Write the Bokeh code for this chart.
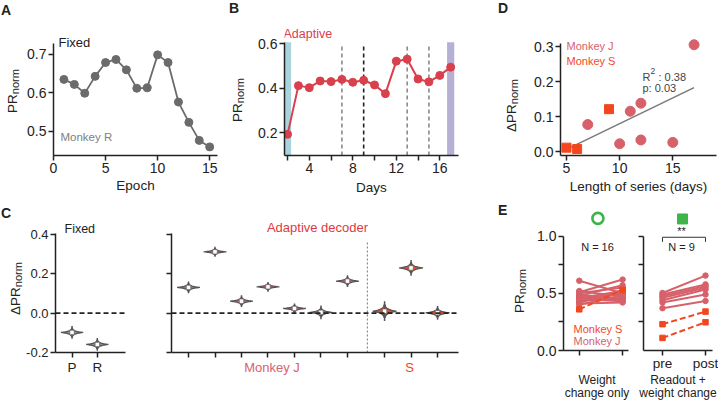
import math
import numpy as np
from bokeh.plotting import figure
from bokeh.layouts import column, row
from bokeh.models import Range1d, FixedTicker, Label, BoxAnnotation, Span, Div
from bokeh.embed import file_html
from bokeh.resources import INLINE

# ---------------- data ----------------
# A: fixed decoder, monkey R
epochs = list(range(1, 16))
fixed_pr = [0.635, 0.622, 0.599, 0.643, 0.679, 0.687, 0.660, 0.612, 0.613,
            0.699, 0.679, 0.576, 0.523, 0.476, 0.459]

# B: adaptive decoder
days = list(range(2, 18))
adaptive_pr = [0.193, 0.412, 0.403, 0.433, 0.430, 0.440, 0.427, 0.436,
               0.415, 0.376, 0.522, 0.531, 0.442, 0.429, 0.458, 0.495]
change_days_gray = [7, 13, 15]
change_days_black = [9]
band_days = [2, 17]

# D: delta PR vs length of series
d_j_len = [7, 10, 11, 12, 12, 15, 17]
d_j_dpr = [0.077, 0.022, 0.115, 0.138, 0.033, 0.026, 0.305]
d_s_len = [5, 6, 9]
d_s_dpr = [0.011, 0.007, 0.121]
d_r2 = "0.38"
d_p = "0.03"

# C: violins (median, spread)
c_fixed_labels = ["P", "R"]
c_fixed_med = [-0.098, -0.159]
c_fixed_spread = [0.0065, 0.0065]
c_j_med = [0.131, 0.312, 0.061, 0.134, 0.024, 0.004, 0.163]
c_j_spread = [0.006, 0.005, 0.006, 0.005, 0.005, 0.007, 0.006]
c_s_med = [0.010, 0.230, 0.002]
c_s_spread = [0.010, 0.008, 0.007]

# E: pre / post
e_wc_j_pre = [0.61, 0.52, 0.51, 0.50, 0.49, 0.48, 0.47, 0.46, 0.46, 0.45, 0.44, 0.43, 0.42, 0.41, 0.40]
e_wc_j_post = [0.50, 0.47, 0.62, 0.55, 0.45, 0.57, 0.44, 0.52, 0.49, 0.43, 0.50, 0.46, 0.53, 0.42, 0.48]
e_wc_s_pre = [0.36]
e_wc_s_post = [0.53]
e_ro_j_pre = [0.503, 0.489, 0.474, 0.460, 0.440, 0.420, 0.370]
e_ro_j_post = [0.655, 0.578, 0.564, 0.549, 0.534, 0.490, 0.433]
e_ro_s_pre = [0.23, 0.11]
e_ro_s_post = [0.34, 0.247]
e_tick_labels = ["pre", "post"]

# ---------------- style ----------------
FONT = "Liberation Sans"
CSS_FONT = "'Liberation Sans', Arial, sans-serif"
INK = "#222222"
GRAY_A = "#6b6b6b"
RED_B = "#d9404d"
J_COL = "#d7616a"
S_COL = "#f2471e"
ADAPT_RED = "#e0393b"
GREEN = "#3db54a"
BLUE_BAND = "#a9d4de"
PURPLE_BAND = "#b5b0d4"
VEDGE = "#555555"

# absolute screen position (left, bottom) of each frame
FRAME = {
    "A": (53, 155), "B": (284, 155), "D": (560, 155),
    "C1": (53, 352), "C2": (171, 352), "E1": (562, 352), "E2": (643, 352),
}


def make_fig(w, h, bl, br, bt, bb, xr, yr):
    p = figure(width=w, height=h, min_border_left=bl, min_border_right=br,
               min_border_top=bt, min_border_bottom=bb,
               x_range=Range1d(*xr), y_range=Range1d(*yr),
               output_backend="svg", toolbar_location=None)
    p.title.visible = False
    p.xgrid.visible = False
    p.ygrid.visible = False
    p.outline_line_color = None
    p.background_fill_color = "white"
    p.border_fill_color = "white"
    for ax in p.axis:
        ax.axis_line_width = 1.5
        ax.axis_line_color = INK
        ax.major_tick_line_width = 1.5
        ax.major_tick_line_color = INK
        ax.minor_tick_line_width = 1.5
        ax.minor_tick_line_color = INK
        ax.major_tick_in = 0
        ax.major_tick_out = 5
        ax.minor_tick_in = 0
        ax.minor_tick_out = 5
        ax.major_label_text_font = FONT
        ax.major_label_text_font_size = "14px"
        ax.major_label_text_color = INK
        ax.major_label_standoff = 2
        ax.axis_label_text_font = FONT
        ax.axis_label_text_font_style = "normal"
        ax.axis_label_text_font_size = "13.5px"
        ax.axis_label_text_color = INK
    return p


def set_ticks(ax, major, labels=None, minor=None):
    ax.ticker = FixedTicker(ticks=major, minor_ticks=minor or [])
    if labels is not None:
        ax.major_label_overrides = {t: l for t, l in zip(major, labels)}


def blank_labels(ax):
    ax.major_label_overrides = {t: "" for t in ax.ticker.ticks}
    ax.major_label_text_font_size = "1px"
    ax.major_label_standoff = 0


def add_text(p, key, X, Y, text, size, color=INK, align="left",
             baseline="middle", style="normal"):
    fl, fb = FRAME[key]
    p.add_layout(Label(x=X - fl, y=fb - Y, x_units="screen", y_units="screen",
                       text=text, text_font=FONT, text_font_size=f"{size}px",
                       text_color=color, text_align=align, text_baseline=baseline,
                       text_font_style=style))


# ---- HTML side columns (panel letters, y labels with subscripts) ----
def span_text(x, y, text, size, color=INK, bold=False, center=False, lh=16):
    tr = "transform:translateX(-50%);" if center else ""
    fw = "bold" if bold else "normal"
    return (f'<span style="position:absolute;left:{x}px;top:{y}px;{tr}'
            f'font-size:{size}px;line-height:{lh}px;white-space:nowrap;'
            f'color:{color};font-weight:{fw};">{text}</span>')


def rot_ylabel(x, y0, prefix):
    return (f'<span style="position:absolute;left:{x}px;top:{y0}px;'
            f'transform-origin:0 0;transform:rotate(-90deg);font-size:13.5px;'
            f'line-height:13px;white-space:nowrap;color:{INK};">{prefix}'
            f'<span style="font-size:11px;position:relative;top:1.5px;">norm</span></span>')


def html_div(width, height, items):
    inner = "".join(items)
    return Div(text=(f'<div style="position:relative;width:{width}px;height:{height}px;'
                     f'overflow:hidden;font-family:{CSS_FONT};">{inner}</div>'),
               width=width, height=height, margin=(0, 0, 0, 0))


# ---------------- A ----------------
pA = make_fig(207, 200, 31, 12, 24, 45, (0, 15.75), (0.4366, 0.7782))
set_ticks(pA.xaxis[0], [0, 5, 10, 15], ["0", "5", "10", "15"])
set_ticks(pA.yaxis[0], [0.5, 0.6, 0.7], ["0.5", "0.6", "0.7"])
pA.yaxis[0].bounds = (0.4366, 0.7287)
pA.xaxis[0].axis_label = "Epoch"
pA.xaxis[0].axis_label_standoff = 2
pA.line(epochs, fixed_pr, line_color=GRAY_A, line_width=1.8)
pA.scatter(epochs, fixed_pr, size=8, fill_color=GRAY_A, line_color=GRAY_A)
add_text(pA, "A", 58, 42, "Fixed", 13)
add_text(pA, "A", 60, 136, "Monkey R", 11.5, color="#808080")

divA = html_div(22, 200, [span_text(1, 2, "A", 14, bold=True), rot_ylabel(5.5, 113, "PR")])

# ---------------- B ----------------
pB = make_fig(224, 200, 38, 12, 24, 45, (1.72, 17.72), (0.098, 0.6867))
set_ticks(pB.xaxis[0], [4, 8, 12, 16], ["4", "8", "12", "16"], minor=[2, 6, 10, 14])
set_ticks(pB.yaxis[0], [0.2, 0.4, 0.6], ["0.2", "0.4", "0.6"])
pB.yaxis[0].bounds = (0.098, 0.607)
pB.xaxis[0].axis_label = "Days"
pB.xaxis[0].axis_label_standoff = 4
for d, c in zip(band_days, [BLUE_BAND, PURPLE_BAND]):
    pB.add_layout(BoxAnnotation(left=d - 0.33, right=d + 0.33, top=0.607,
                                fill_color=c, fill_alpha=1.0, line_color=None,
                                level="underlay"))
pB.segment(x0=change_days_gray, y0=[0.098] * len(change_days_gray),
           x1=change_days_gray, y1=[0.592] * len(change_days_gray),
           line_color="#8a8a8a", line_width=1.6, line_dash="4 3")
pB.segment(x0=change_days_black, y0=[0.098] * len(change_days_black),
           x1=change_days_black, y1=[0.592] * len(change_days_black),
           line_color=INK, line_width=1.6, line_dash="4 3")
pB.line(days, adaptive_pr, line_color=RED_B, line_width=2)
pB.scatter(days, adaptive_pr, size=8, fill_color=RED_B, line_color=RED_B)
add_text(pB, "B", 283, 33, "Adaptive", 12.5, color=RED_B)

divB = html_div(17, 200, [span_text(0, 0, "B", 14, bold=True), rot_ylabel(2, 122, "PR")])

# ---------------- D ----------------
pD = make_fig(194, 200, 36, 2, 24, 45, (4.436, 19.11), (-0.0114, 0.3629))
set_ticks(pD.xaxis[0], [5, 10, 15], ["5", "10", "15"])
set_ticks(pD.yaxis[0], [0.0, 0.1, 0.2, 0.3], ["0.0", "0.1", "0.2", "0.3"])
pD.yaxis[0].bounds = (-0.0114, 0.3086)
pD.xaxis[0].axis_label = "Length of series (days)"
pD.xaxis[0].axis_label_standoff = 3
all_x = np.array(d_j_len + d_s_len, dtype=float)
all_y = np.array(d_j_dpr + d_s_dpr, dtype=float)
slope, icpt = np.polyfit(all_x, all_y, 1)
fit_x = np.array([all_x.min(), all_x.max()])
pD.line(fit_x, slope * fit_x + icpt, line_color="#7a7a7a", line_width=1.6)
pD.scatter(d_j_len, d_j_dpr, size=10, fill_color=J_COL, line_color=J_COL)
pD.scatter(d_s_len, d_s_dpr, marker="square", size=9, fill_color=S_COL, line_color=S_COL)
add_text(pD, "D", 566, 45, "Monkey J", 11, color=J_COL)
add_text(pD, "D", 566, 60, "Monkey S", 11, color=S_COL)
add_text(pD, "D", 642, 76, "R", 11, color="#444444")
add_text(pD, "D", 650, 70, "2", 8.5, color="#444444")
add_text(pD, "D", 658, 76, ": " + d_r2, 11, color="#444444")
add_text(pD, "D", 642, 87, "p: " + d_p, 11, color="#444444")

divD = html_div(54, 200, [span_text(28, 0, "D", 14, bold=True), rot_ylabel(35, 132, "ΔPR")])


# ---------------- C ----------------
def violins(p, pos, meds, spreads, half_w, fill):
    xs_all, ys_all = [], []
    for x0, m, s in zip(pos, meds, spreads):
        t = np.linspace(-3.3, 3.3, 45)
        y = m + t * s
        w = half_w * np.exp(-np.abs(t))
        xs_all.append(np.concatenate([x0 + w, (x0 - w)[::-1]]).tolist())
        ys_all.append(np.concatenate([y, y[::-1]]).tolist())
    p.patches(xs_all, ys_all, fill_color=fill, line_color=VEDGE, line_width=1.3)
    p.segment(x0=list(pos), y0=[m - 5 * s for m, s in zip(meds, spreads)],
              x1=list(pos), y1=[m + 5 * s for m, s in zip(meds, spreads)],
              line_color=VEDGE, line_width=1.5)
    p.scatter(list(pos), list(meds), marker="square", size=4.5,
              fill_color="white", line_color="#666666", line_width=0.8)


c_fixed_pos = [1, 2]
pC1 = make_fig(107, 200, 30, 5, 18, 48, (0.346, 3.115), (-0.2, 0.481))
set_ticks(pC1.xaxis[0], c_fixed_pos, c_fixed_labels)
pC1.xaxis[0].major_label_text_font_size = "13.5px"
set_ticks(pC1.yaxis[0], [-0.2, 0.0, 0.2, 0.4], ["-0.2", "0.0", "0.2", "0.4"])
pC1.yaxis[0].major_label_text_font_size = "13px"
pC1.yaxis[0].bounds = (-0.2, 0.405)
pC1.add_layout(Span(location=0, dimension="width", line_color=INK,
                    line_width=1.6, line_dash="5 3"))
violins(pC1, c_fixed_pos, c_fixed_med, c_fixed_spread, 0.44, "#8c8c8c")
add_text(pC1, "C1", 62, 228, "Fixed", 12.5)

divC = html_div(23, 200, [span_text(1, 5, "C", 14, bold=True), rot_ylabel(9, 115, "ΔPR")])

c_j_pos = list(range(1, 8))
c_s_pos = [8.4, 9.4, 10.4]
pC2 = make_fig(332, 160, 41, 4, 15, 8, (0.358, 11.19), (-0.2, 0.4965))
set_ticks(pC2.xaxis[0], c_j_pos + c_s_pos)
blank_labels(pC2.xaxis[0])
set_ticks(pC2.yaxis[0], [-0.2, 0.0, 0.2, 0.4])
blank_labels(pC2.yaxis[0])
pC2.yaxis[0].bounds = (-0.2, 0.405)
pC2.add_layout(Span(location=0, dimension="width", line_color=INK,
                    line_width=1.6, line_dash="5 3"))
pC2.segment(x0=[7.75], y0=[-0.2], x1=[7.75], y1=[0.362], line_color="#777777",
            line_width=1, line_dash="2 2")
violins(pC2, c_j_pos, c_j_med, c_j_spread, 0.43, J_COL)
violins(pC2, c_s_pos, c_s_med, c_s_spread, 0.45, S_COL)
add_text(pC2, "C2", 317, 227, "Adaptive decoder", 13, color=ADAPT_RED, align="center")

divC2b = html_div(332, 40, [span_text(142, 0, "Monkey J", 13, color=J_COL, center=True),
                            span_text(279.5, 0, "S", 13, color=S_COL, center=True)])


# ---------------- E ----------------
def pairs(p, pre, post, color, dash, marker, size):
    xs = [[0, 1] for _ in pre]
    ys = [[a, b] for a, b in zip(pre, post)]
    p.multi_line(xs, ys, line_color=color, line_width=2, line_dash=dash)
    p.scatter([0] * len(pre) + [1] * len(post), list(pre) + list(post),
              marker=marker, size=size, fill_color=color, line_color=color)


pE1 = make_fig(95, 173, 28, 1, 10, 21, (-0.364, 1.136), (0, 1.224))
set_ticks(pE1.xaxis[0], [0, 1])
blank_labels(pE1.xaxis[0])
set_ticks(pE1.yaxis[0], [0.0, 0.5, 1.0], ["0.0", "0.5", "1.0"], minor=[0.25, 0.75])
pE1.yaxis[0].bounds = (0, 1)
pairs(pE1, e_wc_j_pre, e_wc_j_post, J_COL, "solid", "circle", 5.5)
pairs(pE1, e_wc_s_pre, e_wc_s_post, S_COL, "6 3", "square", 5.5)
pE1.scatter([0.43], [1.155], marker="circle", size=11, fill_color=None,
            line_color=GREEN, line_width=2.6)
add_text(pE1, "E1", 596, 248, "N = 16", 11, align="center")
add_text(pE1, "E1", 572, 330, "Monkey S", 11, color=S_COL)
add_text(pE1, "E1", 572, 342, "Monkey J", 11, color=J_COL)

pE2 = make_fig(89, 173, 14, 6, 10, 21, (-0.442, 1.163), (0, 1.224))
set_ticks(pE2.xaxis[0], [0, 1], e_tick_labels)
pE2.xaxis[0].major_label_text_font_size = "13.5px"
pE2.xaxis[0].major_label_standoff = 0
set_ticks(pE2.yaxis[0], [0.25, 0.5, 0.75, 1.0])
blank_labels(pE2.yaxis[0])
pE2.yaxis[0].bounds = (0, 1)
pairs(pE2, e_ro_j_pre, e_ro_j_post, J_COL, "solid", "circle", 5.5)
pairs(pE2, e_ro_s_pre, e_ro_s_post, S_COL, "6 3", "square", 5.5)
pE2.line([0, 0, 1, 1], [0.95, 0.99, 0.99, 0.95], line_color="#333333", line_width=1)
pE2.scatter([0.465], [1.15], marker="square", size=10, fill_color=GREEN, line_color=GREEN)
add_text(pE2, "E2", 681, 232, "**", 11, align="center")
add_text(pE2, "E2", 681, 248, "N = 9", 11, align="center")

divE = html_div(72, 200, [span_text(36, 2, "E", 14, bold=True), rot_ylabel(51, 113, "PR")])
divEb = html_div(184, 27, [span_text(63, 1, "Weight", 12, center=True, lh=13),
                           span_text(63, 14, "change only", 12, center=True, lh=13),
                           span_text(144, 1, "Readout +", 12, center=True, lh=13),
                           span_text(144, 14, "weight change", 12, center=True, lh=13)])

row1 = row(divA, pA, divB, pB, divD, pD)
row2 = row(divC, pC1, column(pC2, divC2b), divE, column(row(pE1, pE2), divEb))
layout = column(row1, row2)
open("out.html", "w").write(file_html(layout, INLINE))
